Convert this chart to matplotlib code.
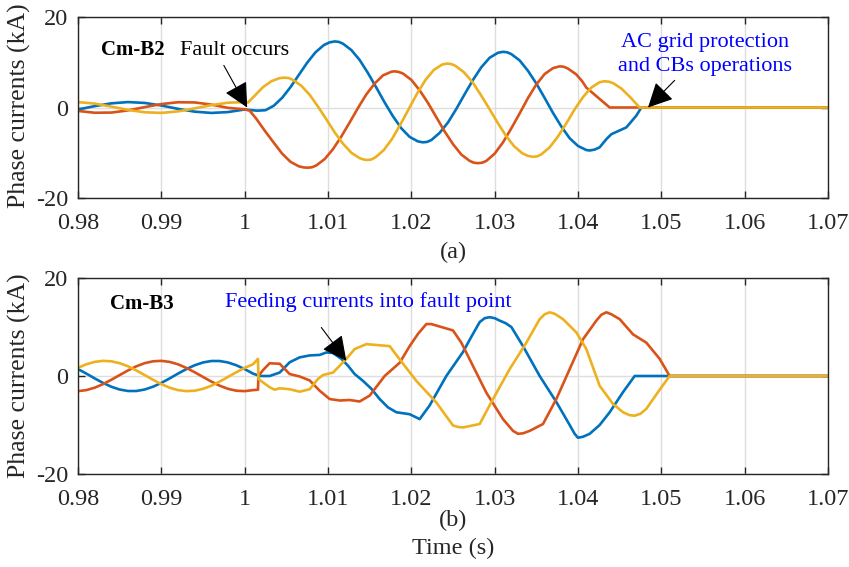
import matplotlib

matplotlib.use("Agg")
import matplotlib.pyplot as plt

plt.rcParams["font.family"] = ["Liberation Serif", "DejaVu Serif"]

BLUE = "#0072BD"
ORANGE = "#D95319"
YELLOW = "#EDB120"

# ---- (a) Cm-B2 phase currents (kA) ----
a_blue_t = [0.980, 0.982, 0.984, 0.986, 0.988, 0.990, 0.992, 0.994, 0.996, 0.998, 1.000,
            1.0003, 1.0015, 1.0025, 1.0035, 1.0045, 1.0055, 1.0065, 1.0075, 1.0085, 1.0095,
            1.0102, 1.0108, 1.0113, 1.0118, 1.0128, 1.0138, 1.0148, 1.0158, 1.0168, 1.0178,
            1.0188, 1.0198, 1.0208, 1.0214, 1.0219, 1.0224, 1.0234, 1.0244, 1.0254, 1.0264,
            1.0274, 1.0284, 1.0294, 1.0304, 1.031, 1.0315, 1.032, 1.033, 1.034, 1.035, 1.036,
            1.037, 1.038, 1.039, 1.040, 1.041, 1.0414, 1.042, 1.0426, 1.0434, 1.044, 1.0458,
            1.047, 1.0476, 1.07]
a_blue_v = [-0.44, 0.30, 0.92, 1.20, 1.01, 0.44, -0.30, -0.92, -1.20, -1.01, -0.44,
            -0.5, -0.7, -0.6, 0.4, 2.15, 4.5, 7.2, 9.9, 12.2, 13.8,
            14.4, 14.6, 14.5, 14.1, 12.7, 10.5, 7.6, 4.4, 1.1, -1.95,
            -4.6, -6.5, -7.5, -7.7, -7.6, -7.2, -5.6, -3.3, -0.3, 2.95,
            6.1, 8.9, 11.0, 12.1, 12.3, 12.2, 11.8, 10.4, 8.1, 5.3, 2.1,
            -1.2, -4.2, -6.8, -8.5, -9.4, -9.5, -9.3, -8.8, -7.0, -5.9, -4.4,
            -1.8, 0.0, 0.0]

a_orange_t = [0.980, 0.982, 0.984, 0.986, 0.988, 0.990, 0.992, 0.994, 0.996, 0.998, 1.000,
              1.0006, 1.0014, 1.0024, 1.0035, 1.0045, 1.0055, 1.0065, 1.0071, 1.0076, 1.0081,
              1.0086, 1.0096, 1.0106, 1.0116, 1.0126, 1.0136, 1.0146, 1.0156, 1.0166, 1.0176,
              1.018, 1.0185, 1.019, 1.020, 1.021, 1.022, 1.023, 1.024, 1.025, 1.026, 1.027,
              1.0275, 1.028, 1.0285, 1.029, 1.030, 1.031, 1.032, 1.033, 1.034, 1.035, 1.036,
              1.037, 1.0378, 1.0383, 1.0388, 1.0398, 1.0405, 1.041, 1.0438, 1.07]
a_orange_v = [-0.76, -1.16, -1.12, -0.64, 0.08, 0.76, 1.16, 1.12, 0.64, -0.08, -0.4,
              -0.7, -2.5, -5.1, -7.8, -10.2, -12.0, -13.0, -13.25, -13.3, -13.2,
              -12.8, -11.4, -9.2, -6.4, -3.3, -0.1, 2.9, 5.3, 7.1, 7.9,
              8.0, 7.85, 7.5, 6.1, 3.8, 1.0, -2.15, -5.3, -8.1, -10.4, -11.8,
              -12.2, -12.3, -12.2, -11.8, -10.2, -7.7, -4.6, -1.3, 2.1, 5.1, 7.4,
              8.7, 9.1, 9.0, 8.6, 7.3, 5.8, 4.4, 0.0, 0.0]

a_yellow_t = [0.980, 0.982, 0.984, 0.986, 0.988, 0.990, 0.992, 0.994, 0.996, 0.998, 1.000,
              1.0004, 1.0012, 1.0022, 1.0032, 1.0042, 1.0048, 1.0053, 1.0058, 1.0068, 1.0078,
              1.0088, 1.0098, 1.0108, 1.0118, 1.0128, 1.0138, 1.0143, 1.0147, 1.0152, 1.0157,
              1.0167, 1.0177, 1.0187, 1.0197, 1.0207, 1.0217, 1.0227, 1.0237, 1.0243, 1.0248,
              1.0253, 1.0263, 1.0273, 1.0283, 1.0293, 1.0303, 1.0313, 1.0323, 1.0333, 1.034,
              1.0346, 1.0351, 1.0356, 1.0366, 1.0376, 1.0386, 1.0396, 1.0406, 1.0416, 1.0426,
              1.0432, 1.0437, 1.0442, 1.0452, 1.0462, 1.0474, 1.07]
a_yellow_v = [1.19, 0.86, 0.20, -0.53, -1.06, -1.19, -0.86, -0.20, 0.53, 1.06, 1.19,
              1.1, 2.6, 4.5, 5.8, 6.5, 6.6, 6.5, 6.1, 4.8, 2.8,
              0.2, -2.6, -5.5, -8.0, -10.0, -11.2, -11.5, -11.6, -11.5, -11.0,
              -9.4, -6.9, -3.7, -0.3, 3.1, 6.1, 8.3, 9.5, 9.7, 9.6,
              9.2, 7.8, 5.7, 2.9, -0.1, -3.2, -6.1, -8.5, -10.1, -10.7,
              -10.9, -10.8, -10.35, -8.8, -6.4, -3.5, -0.4, 2.3, 4.4, 5.6,
              5.8, 5.7, 5.4, 4.2, 2.4, 0.0, 0.0]

# ---- (b) Cm-B3 phase currents (kA) ----
b_blue_t = [0.980, 0.981, 0.982, 0.983, 0.984, 0.985, 0.986, 0.987, 0.988, 0.989, 0.990,
            0.991, 0.992, 0.993, 0.994, 0.995, 0.996, 0.997, 0.998, 0.999, 1.000, 1.001,
            1.0018, 1.003, 1.0042, 1.0054, 1.0066, 1.0078, 1.009, 1.0098, 1.0106, 1.0116,
            1.0124, 1.0132, 1.0142, 1.0152, 1.0162, 1.0172, 1.0182, 1.019, 1.0198, 1.021,
            1.0222, 1.0242, 1.0262, 1.0272, 1.0282, 1.0288, 1.0294, 1.0300, 1.0306, 1.0313,
            1.032, 1.0334, 1.0354, 1.0374, 1.039, 1.0396, 1.040, 1.0406, 1.0414, 1.0426,
            1.0438, 1.0454, 1.0468, 1.07]
b_blue_v = [1.41, 0.49, -0.49, -1.41, -2.19, -2.76, -3.06, -3.06, -2.76, -2.19, -1.41,
            -0.49, 0.49, 1.41, 2.19, 2.76, 3.06, 3.06, 2.76, 2.19, 1.41, 0.49,
            0.0, 0.0, 0.7, 2.8, 3.8, 4.2, 4.3, 4.8, 4.7, 3.5,
            2.1, 0.4, -1.0, -2.6, -4.7, -6.4, -7.4, -7.6, -7.8, -8.8,
            -6.0, 0.0, 4.9, 8.0, 11.0, 11.8, 12.0, 11.8, 11.3, 10.8,
            10.0, 6.1, 0.0, -5.3, -10.0, -11.8, -12.6, -12.4, -11.8, -10.0,
            -7.4, -3.3, 0.0, 0.0]

b_orange_t = [0.980, 0.981, 0.982, 0.983, 0.984, 0.985, 0.986, 0.987, 0.988, 0.989, 0.990,
              0.991, 0.992, 0.993, 0.994, 0.995, 0.996, 0.997, 0.998, 0.999, 1.000, 1.001,
              1.0016, 1.00165, 1.0022, 1.003, 1.0042, 1.0054, 1.0066, 1.0078, 1.009, 1.0102,
              1.0114, 1.0126, 1.0138, 1.015, 1.0168, 1.0186, 1.0198, 1.0208, 1.0218, 1.0224,
              1.023, 1.024, 1.025, 1.026, 1.027, 1.029, 1.031, 1.0322, 1.0328, 1.0334, 1.0342,
              1.0358, 1.0374, 1.039, 1.0406, 1.0422, 1.0428, 1.0434, 1.044, 1.045, 1.0466,
              1.0482, 1.0498, 1.051, 1.07]
b_orange_v = [-3.09, -2.88, -2.39, -1.66, -0.77, 0.19, 1.14, 1.98, 2.62, 3.00, 3.09,
              2.88, 2.39, 1.66, 0.77, -0.19, -1.14, -1.98, -2.62, -3.00, -3.09, -2.88,
              -2.8, 0.0, 1.2, 2.6, 2.5, 0.4, -0.1, -0.9, -3.0, -4.7,
              -5.0, -4.9, -5.2, -4.0, 0.0, 2.7, 6.1, 8.6, 10.6, 10.6,
              10.3, 9.8, 9.3, 6.8, 3.4, -3.4, -8.8, -11.2, -11.8, -11.7, -11.2,
              -9.8, -4.7, 1.4, 7.5, 11.3, 12.5, 13.0, 12.6, 11.6, 8.5,
              6.8, 3.5, 0.0, 0.0]

b_yellow_t = [0.980, 0.981, 0.982, 0.983, 0.984, 0.985, 0.986, 0.987, 0.988, 0.989, 0.990,
              0.991, 0.992, 0.993, 0.994, 0.995, 0.996, 0.997, 0.998, 0.999, 1.000, 1.001,
              1.0016, 1.00165, 1.0022, 1.003, 1.0036, 1.0042, 1.0054, 1.0066, 1.0078, 1.0088,
              1.0094, 1.0106, 1.0114, 1.0122, 1.0132, 1.0146, 1.016, 1.0174, 1.0186, 1.0206,
              1.023, 1.025, 1.0256, 1.0262, 1.0282, 1.0298, 1.0318, 1.0338, 1.0354, 1.036,
              1.0366, 1.0372, 1.0382, 1.0398, 1.041, 1.0426, 1.0442, 1.0454, 1.0462, 1.0468,
              1.0475, 1.0482, 1.0498, 1.051, 1.07]
b_yellow_v = [1.66, 2.39, 2.88, 3.09, 3.00, 2.62, 1.98, 1.14, 0.19, -0.77, -1.66,
              -2.39, -2.88, -3.09, -3.00, -2.62, -1.98, -1.14, -0.19, 0.77, 1.66, 2.39,
              3.5, -0.6, -1.3, -2.3, -2.8, -2.5, -2.7, -3.2, -2.7, -0.6,
              0.2, 0.7, 2.1, 3.5, 5.5, 6.5, 6.3, 6.1, 3.4, -1.0,
              -5.4, -10.1, -10.4, -10.5, -9.8, -4.7, 1.4, 6.8, 11.6, 12.6,
              13.0, 12.7, 11.6, 8.9, 5.5, -2.0, -5.7, -7.4, -8.0, -8.1,
              -7.7, -6.7, -2.8, 0.0, 0.0]

x_ticks = [0.98, 0.99, 1.00, 1.01, 1.02, 1.03, 1.04, 1.05, 1.06, 1.07]
x_tick_labels = ["0.98", "0.99", "1", "1.01", "1.02", "1.03", "1.04", "1.05", "1.06", "1.07"]
y_ticks = [-20, 0, 20]
y_tick_labels = ["-20", "0", "20"]

W, H = 849, 567
fig = plt.figure(figsize=(W / 100, H / 100), dpi=100)


def px_axes(left, top, right, bottom):
    return fig.add_axes([left / W, 1 - bottom / H, (right - left) / W, (bottom - top) / H])


def style(ax):
    ax.set_xlim(0.98, 1.07)
    ax.set_ylim(-20, 20)
    ax.set_xticks(x_ticks)
    ax.set_xticklabels(x_tick_labels)
    ax.set_yticks(y_ticks)
    ax.set_yticklabels(y_tick_labels)
    ax.grid(True, color="#dedede", lw=1.0)
    ax.set_axisbelow(True)
    ax.tick_params(direction="in", length=5, width=1, color="#262626",
                   labelsize=17.5, top=True, right=True, labelcolor="#262626")
    ax.tick_params(axis="x", pad=11)
    ax.tick_params(axis="y", pad=7)
    for sp in ax.spines.values():
        sp.set_color("#262626")
        sp.set_linewidth(1.0)


arrow_kw = dict(arrowstyle="-|>,head_length=0.9,head_width=0.45", color="k",
                lw=0.8, shrinkA=0, shrinkB=0, mutation_scale=17)

ax1 = px_axes(78, 17, 828, 198)
style(ax1)
ax1.plot(a_blue_t, a_blue_v, color=BLUE, lw=1.9)
ax1.plot(a_orange_t, a_orange_v, color=ORANGE, lw=1.9)
ax1.plot(a_yellow_t, a_yellow_v, color=YELLOW, lw=1.9)
ax1.text(0.9866, 12.7, "Cm-B2", fontsize=15, fontweight="bold", ha="center", va="center")
ax1.text(0.9988, 12.7, "Fault occurs", fontsize=16, ha="center", va="center")
ax1.annotate("", xy=(1.0003, 0.0), xytext=(0.9975, 9.3), arrowprops=arrow_kw)
ax1.text(1.0552, 11.8, "AC grid protection\nand CBs operations", fontsize=16,
         color="#0000FF", ha="center", va="center", linespacing=1.35)
ax1.annotate("", xy=(1.0484, 0.0), xytext=(1.0516, 6.0), arrowprops=arrow_kw)

ax2 = px_axes(78, 278, 828, 474)
style(ax2)
ax2.plot(b_blue_t, b_blue_v, color=BLUE, lw=1.9)
ax2.plot(b_orange_t, b_orange_v, color=ORANGE, lw=1.9)
ax2.plot(b_yellow_t, b_yellow_v, color=YELLOW, lw=1.9)
ax2.text(0.9877, 14.6, "Cm-B3", fontsize=15, fontweight="bold", ha="center", va="center")
ax2.text(1.0148, 15.0, "Feeding currents into fault point", fontsize=16,
         color="#0000FF", ha="center", va="center")
ax2.annotate("", xy=(1.0122, 3.1), xytext=(1.0092, 9.9), arrowprops=arrow_kw)

fig.text(19 / W, 1 - 106 / H, "Phase currents (kA)", rotation=90, fontsize=18.5,
         ha="center", va="center", color="#262626")
fig.text(19 / W, 1 - 376 / H, "Phase currents (kA)", rotation=90, fontsize=18.5,
         ha="center", va="center", color="#262626")
fig.text(453 / W, 1 - 252 / H, "(a)", fontsize=17.5, ha="center", va="center", color="#262626")
fig.text(453 / W, 1 - 520 / H, "(b)", fontsize=17.5, ha="center", va="center", color="#262626")
fig.text(453 / W, 1 - 548 / H, "Time (s)", fontsize=17.5, ha="center", va="center", color="#262626")

fig.savefig("out.png", dpi=100)
